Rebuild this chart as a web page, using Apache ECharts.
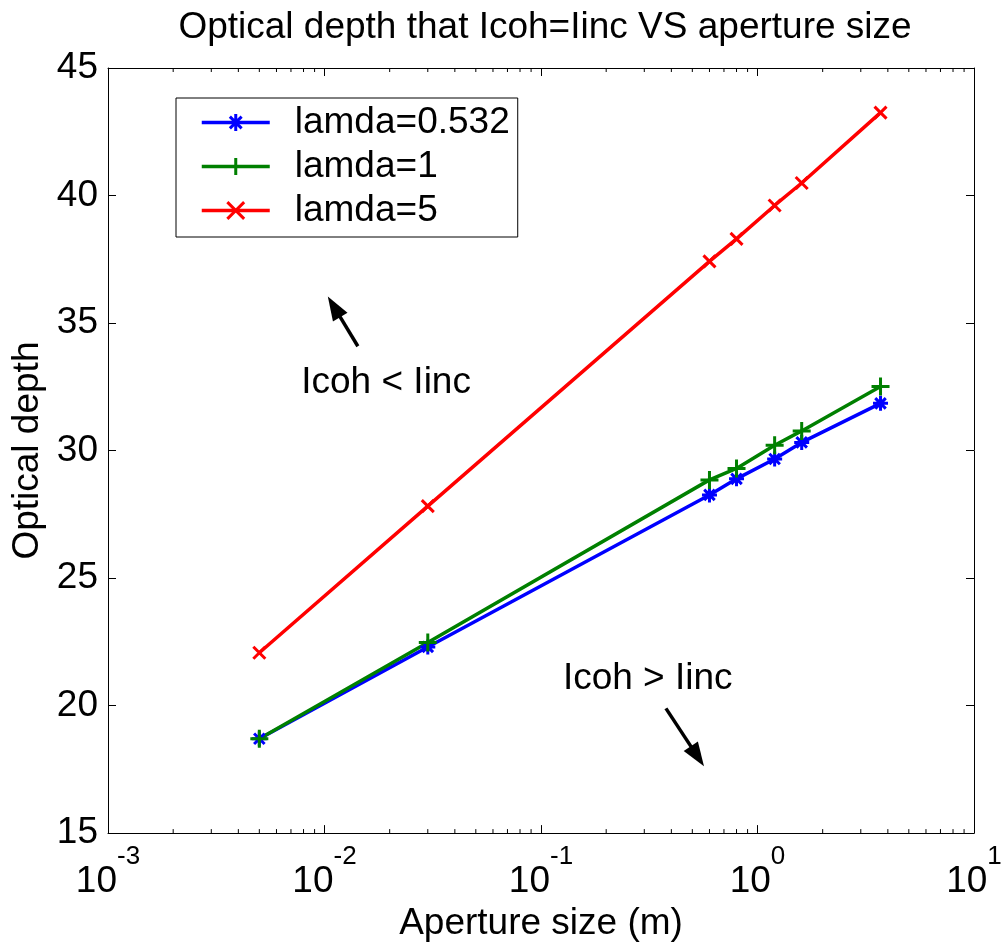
<!DOCTYPE html>
<html>
<head>
<meta charset="utf-8">
<script src="https://cdn.jsdelivr.net/npm/echarts@6/dist/echarts.min.js"></script>
<style>
html,body{margin:0;padding:0;background:#fff;}
#chart{width:1006px;height:947px;}
</style>
</head>
<body>
<div id="chart"></div>
<script>
// ---- data ----
const apertureSizes = [0.005, 0.03, 0.6, 0.8, 1.2, 1.6, 3.7];
const lamda0532 = [18.7, 22.3, 28.26, 28.89, 29.67, 30.32, 31.85];
const lamda1 = [18.7, 22.47, 28.85, 29.3, 30.21, 30.77, 32.51];
const lamda5 = [22.07, 27.82, 37.42, 38.3, 39.61, 40.49, 43.25];
const seriesNames = ['lamda=0.532', 'lamda=1', 'lamda=5'];
const xTickExponents = ['-3', '-2', '-1', '0', '1'];
const yTickValues = [15, 20, 25, 30, 35, 40, 45];
const xMinorTicks = [0.002,0.003,0.004,0.005,0.006,0.007,0.008,0.009,
  0.02,0.03,0.04,0.05,0.06,0.07,0.08,0.09,
  0.2,0.3,0.4,0.5,0.6,0.7,0.8,0.9,
  2,3,4,5,6,7,8,9];
// annotations (data coordinates)
const annoTexts = ['Icoh < Iinc', 'Icoh > Iinc'];
const annoTextAt = [[0.00781, 32.64], [0.1262, 21.06]];
const annoArrowFrom = [[0.01426, 34.09], [0.3776, 19.89]];
const annoArrowTo = [[0.01036, 36.04], [0.566, 17.62]];

const FONT = 'Liberation Sans, Arial, Helvetica, sans-serif';
const FS = 37;
const colors = ['#0000ff', '#008000', '#ff0000'];
const symAsterisk = 'path://M0,-1 L0,1 M-1,0 L1,0 M-0.7,-0.7 L0.7,0.7 M-0.7,0.7 L0.7,-0.7';
const symPlus = 'path://M0,-1 L0,1 M-1,0 L1,0';
const symX = 'path://M-1,-1 L1,1 M-1,1 L1,-1';

function pairs(ys){ return apertureSizes.map((x,i)=>[x, ys[i]]); }

const xMin = Math.pow(10, Number(xTickExponents[0]));
const xMax = Math.pow(10, Number(xTickExponents[xTickExponents.length-1]));
const yMin = yTickValues[0], yMax = yTickValues[yTickValues.length-1];
const yInt = yTickValues[1] - yTickValues[0];

const chart = echarts.init(document.getElementById('chart'), null, {renderer:'canvas'});

function lineSeries(name, ys, color, sym, size){
  return {
    name, type:'line', data: pairs(ys), xAxisIndex:0, yAxisIndex:0,
    symbol: sym, symbolSize: size, showSymbol:true, showAllSymbol:true,
    lineStyle:{color, width:3.5},
    itemStyle:{color, borderColor:color, borderWidth:3},
    emphasis:{disabled:true}, z:3
  };
}

const option = {
  animation:false,
  backgroundColor:'#fff',
  textStyle:{fontFamily:FONT},
  title:{
    text:'Optical depth that Icoh=Iinc VS aperture size',
    left:540, top:4, textAlign:'center',
    textStyle:{fontFamily:FONT, fontSize:FS, fontWeight:'normal', color:'#000'}
  },
  grid:{left:108, right:32, top:68, bottom:112, containLabel:false},
  legend:{
    orient:'vertical', left:176, top:98,
    data: seriesNames,
    backgroundColor:'#fff', borderColor:'#000', borderWidth:1,
    padding:[6,8,8,24], itemGap:7, itemWidth:68, itemHeight:21,
    lineStyle:{width:3.5},
    itemStyle:{borderWidth:3},
    textStyle:{fontFamily:FONT, fontSize:FS, color:'#000', padding:[0,0,0,20]},
    selectedMode:false
  },
  xAxis:[{
    type:'log', logBase:10, min:xMin, max:xMax, position:'bottom',
    name:'Aperture size (m)', nameLocation:'middle', nameGap:66,
    nameTextStyle:{fontFamily:FONT, fontSize:FS, color:'#000'},
    axisLine:{lineStyle:{color:'#000', width:1}},
    axisTick:{inside:true, length:8, lineStyle:{color:'#000'}},
    splitLine:{show:false},
    axisLabel:{
      margin:11, color:'#000',
      formatter:(v)=>{ const e = Math.round(Math.log10(v)); return '{b|10}{e|' + e + '}'; },
      rich:{
        b:{fontFamily:FONT, fontSize:FS, lineHeight:56, verticalAlign:'bottom', color:'#000'},
        e:{fontFamily:FONT, fontSize:26, lineHeight:26, verticalAlign:'top', color:'#000'}
      }
    }
  },{
    type:'log', logBase:10, min:xMin, max:xMax, position:'top',
    axisLine:{lineStyle:{color:'#000', width:1}},
    axisTick:{inside:true, length:8, lineStyle:{color:'#000'}},
    axisLabel:{show:false}, splitLine:{show:false}
  }],
  yAxis:[{
    type:'value', min:yMin, max:yMax, interval:yInt, position:'left',
    name:'Optical depth', nameLocation:'middle', nameGap:58,
    nameTextStyle:{fontFamily:FONT, fontSize:FS, color:'#000'},
    axisLine:{show:true, lineStyle:{color:'#000', width:1}},
    axisTick:{show:true, inside:true, length:8, lineStyle:{color:'#000'}},
    axisLabel:{margin:10, color:'#000', fontFamily:FONT, fontSize:FS},
    splitLine:{show:false}
  },{
    type:'value', min:yMin, max:yMax, interval:yInt, position:'right',
    axisLine:{show:true, lineStyle:{color:'#000', width:1}},
    axisTick:{show:true, inside:true, length:8, lineStyle:{color:'#000'}},
    axisLabel:{show:false}, splitLine:{show:false}
  }],
  series:[
    {
      type:'custom', name:'minorTicks', xAxisIndex:0, yAxisIndex:0, silent:true, z:1,
      data: xMinorTicks.map(v=>[v, yMin]),
      renderItem:(params, api)=>{
        const cs = params.coordSys;
        const x = api.coord([api.value(0), yMin])[0];
        const st = {stroke:'#000', lineWidth:1};
        return {type:'group', children:[
          {type:'line', shape:{x1:x, y1:cs.y+cs.height, x2:x, y2:cs.y+cs.height-4}, style:st},
          {type:'line', shape:{x1:x, y1:cs.y, x2:x, y2:cs.y+4}, style:st}
        ]};
      }
    },
    lineSeries(seriesNames[0], lamda0532, colors[0], symAsterisk, 15),
    lineSeries(seriesNames[1], lamda1, colors[1], symPlus, 18),
    lineSeries(seriesNames[2], lamda5, colors[2], symX, 12)
  ]
};
chart.setOption(option);

// annotations placed from data coordinates
function px(p){ return chart.convertToPixel({gridIndex:0}, p); }
const graphics = [];
annoTexts.forEach((t,i)=>{
  const p = px(annoTextAt[i]);
  graphics.push({type:'text', x:p[0], y:p[1], z:10,
    style:{text:t, font: FS + 'px ' + FONT, fill:'#000', verticalAlign:'middle', align:'left'}});
  const a = px(annoArrowFrom[i]), b = px(annoArrowTo[i]);
  const dx = b[0]-a[0], dy = b[1]-a[1];
  const L = Math.sqrt(dx*dx+dy*dy), ux = dx/L, uy = dy/L;
  const headLen = 24, headW = 8.5;
  const bx = b[0]-ux*headLen, by = b[1]-uy*headLen;
  graphics.push({type:'line', z:10, shape:{x1:a[0], y1:a[1], x2:bx+ux*2, y2:by+uy*2}, style:{stroke:'#000', lineWidth:3.5}});
  graphics.push({type:'polygon', z:10, shape:{points:[[b[0],b[1]],[bx-uy*headW, by+ux*headW],[bx+uy*headW, by-ux*headW]]}, style:{fill:'#000'}});
});
chart.setOption({graphic:graphics});
</script>
</body>
</html>
